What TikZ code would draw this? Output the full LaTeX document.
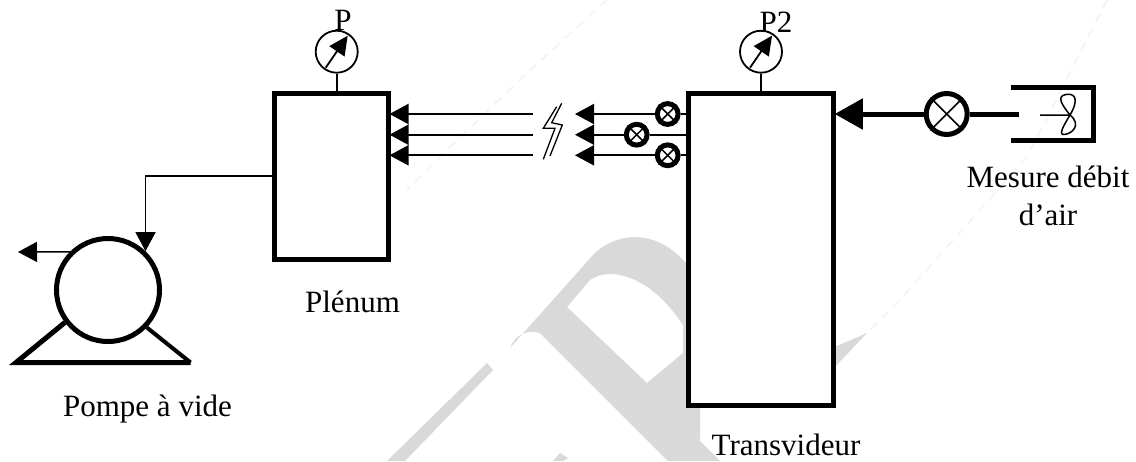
\documentclass[tikz,border=0pt]{standalone}
\usepackage{fontspec}
\setmainfont{Liberation Serif}
\usetikzlibrary{arrows.meta,calc}
\definecolor{filigrane}{gray}{0.85}
\tikzset{
    pipe/.style={line width=1.5pt,-{Triangle[length=19pt,width=20pt]}},
    stub/.style={line width=1.8pt},
    vessel/.style={draw,fill=white,line width=5pt,inner sep=0,miter limit=10},
    legend/.style={anchor=base,inner sep=0,font=\fontsize{31}{38}\selectfont,align=center},
    faint/.style={draw=filigrane!30,line width=2pt,dash pattern=on 9pt off 7pt},
}
\newcommand\GAUGE[3] {
    \node[draw,circle,fill=white,line width=1.8pt,minimum size=42pt,inner sep=0] (#1) at #2 { };
    \draw[line width=1.8pt,-{Triangle[length=19pt,width=18pt]}]
        ($(#1.center)+(-11,16)$) -- ($(#1.center)+(11,-16)$);
    \draw[stub] (#1) -- (#1 |- #3.north);
}
\newcommand\VALVE[4] {
    \node[draw,circle,fill=white,line width=#4,minimum size=#3,inner sep=0] (#1) at #2 { };
    \draw[line width=1.5pt] (#1.45) -- (#1.225);
    \draw[line width=1.5pt] (#1.135) -- (#1.315);
}

\begin{document}
\begin{tikzpicture}[x=1pt,y=-1pt]
    \useasboundingbox (0,0) rectangle (1136,461);

    % Watermark behind the drawing.
    \fill[filigrane,even odd rule] (510,348) -- (593,255)
        .. controls (615,232) and (655,228) .. (685,262) -- (700,280) -- (700,440) -- (540,333)
        .. controls (525,329) and (515,336) .. (510,348)
        (567,307) -- (590,280) .. controls (610,266) and (650,275) .. (683,325)
        -- (683,353) -- (647,383) -- cycle;
    \fill[filigrane] (540,333) -- (567,308) -- (720,461) -- (668,461) -- cycle;
    \fill[filigrane] (487,363) -- (493,370) -- (405,461) -- (387,461) -- cycle;
    \fill[filigrane] (560,453) -- (568,458) -- (563,461) -- (553,461) -- cycle;
    \fill[filigrane] (830,349) -- (867,333) -- (830,372) -- cycle;
    \draw[faint] (607,0) -- (527,73) -- (447,150) -- (407,190);
    \draw[faint] (1107,0) -- (1027,157) -- (900,300) -- (867,333);

    % Vessels.
    \node[vessel,minimum width=114pt,minimum height=166pt] (plenum) at (331.5,176.5) { };
    \node[vessel,minimum width=145.5pt,minimum height=311.5pt] (transvideur) at (761,249.25) { };
    \GAUGE{gaugeP}{(336.7,51.7)}{plenum}
    \GAUGE{gaugeT}{(761,51.7)}{transvideur}

    % Pump.
    \node[draw,circle,line width=5pt,minimum size=103pt,inner sep=0] (pompe) at (108,290) { };
    \coordinate (socleG) at (16,362.5);
    \coordinate (socleD) at (190.5,362.5);
    \draw[line width=5pt,miter limit=10] (pompe.217) -- (socleG) -- (socleD);
    \draw[line width=4pt,miter limit=10] (socleD) -- (pompe.316.5);
    \coordinate (sortie) at (plenum.west |- 0,176);
    \draw[pipe] (sortie) -| (pompe.46.5);
    \coordinate (rejet) at (18,252);
    \draw[pipe] (pompe.135) -- (rejet);

    % Three lines between the vessels.
    \foreach \i/\y/\x in {1/114/667.7,2/134.7/636.7,3/155.3/667.7}
    {
        \coordinate (in\i) at ([xshift=-1.5pt]plenum.east |- 0,\y);
        \coordinate (cut\i) at (533,\y);
        \coordinate (tip\i) at (575,\y);
        \coordinate (out\i) at (transvideur.west |- 0,\y);
        \draw[pipe,line width=2pt] (cut\i) -- (in\i);
        \VALVE{v\i}{(\x,\y)}{20.8pt}{5pt}
        \draw[pipe,line width=2pt] (v\i) -- (tip\i);
        \draw[stub,line width=2pt] (v\i) -- (out\i);
    }

    % Break mark.
    \draw[line width=1.3pt] (556.7,106.7) -- (543.3,128.3) -- (555,128.3) -- (543.3,159.3);
    \draw[line width=1.3pt] (561.7,103.3) -- (551.7,122.7) -- (562.3,125) -- (550,156);

    % Air flow measure.
    \VALVE{vAir}{(946.7,114)}{41pt}{5pt}
    \coordinate (inT) at ([xshift=-1.5pt]transvideur.east |- 0,114);
    \coordinate (debit) at (1019,114);
    \draw[line width=5pt,-{Triangle[length=28pt,width=30pt]}] (vAir) -- (inT);
    \draw[line width=5pt] (vAir) -- (debit);
    \draw[line width=5pt,miter limit=10] (1010.7,87) -- (1093.3,87) -- (1093.3,140) -- (1010.7,140);
    \coordinate (axe) at (1070,115);
    \draw[line width=1.5pt] (1040,115) -- (axe)
        .. controls (1062,105) and (1056,96) .. (1066,94.5)
        .. controls (1074,93) and (1080,98) .. (axe)
        .. controls (1064,125) and (1058,135) .. (1064,134.5)
        .. controls (1072,134) and (1082,125) .. (axe);

    % Labels.
    \node[legend] (lblP) at (343,30) {P};
    \node[legend] (lblPtwo) at (776,32) {P2};
    \node[legend] (lblPlenum) at (352.5,312) {Plénum};
    \node[legend] (lblPompe) at (147.5,416) {Pompe à vide};
    \node[legend] (lblTrans) at (786,455) {Transvideur};
    \node[legend] (lblDebit) at (1048,187) {Mesure débit};
    \node[legend] (lblAir) at (1048,225) {d’air};
\end{tikzpicture}
\end{document}
